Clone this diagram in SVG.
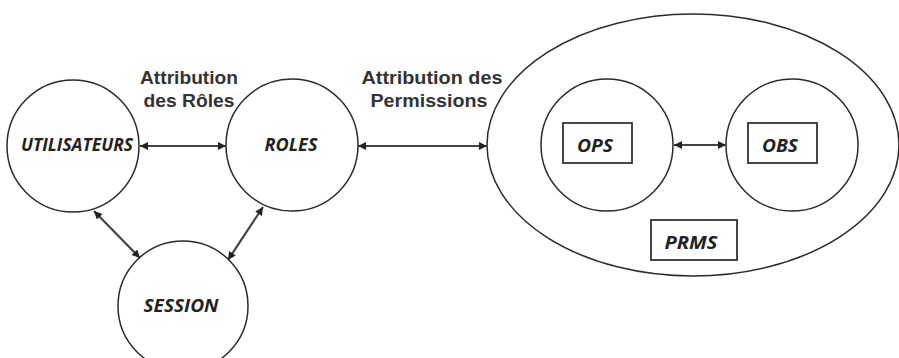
<svg xmlns="http://www.w3.org/2000/svg" width="899" height="358" viewBox="0 0 899 358">
<style>
.node{fill:#fff;stroke:#2a2a2a;stroke-width:1.5}
.box{fill:#fff;stroke:#333;stroke-width:1.8}
.nt{font-family:"Open Sans","Liberation Sans",sans-serif;font-style:italic;font-weight:700;font-size:18.5px;fill:#222;text-anchor:middle}
.lbl{font-family:"Liberation Sans",Arial,sans-serif;font-weight:700;font-size:19px;fill:#333;text-anchor:middle}
.con{stroke:#444;stroke-width:2.2;fill:none;marker-start:url(#a);marker-end:url(#a)}
</style>
<defs>
<marker id="a" viewBox="0 0 10 10" refX="10" refY="5" markerWidth="10" markerHeight="8" markerUnits="userSpaceOnUse" orient="auto-start-reverse">
<path d="M0,0 L10,5 L0,10 z" fill="#222"/>
</marker>
</defs>
<rect width="899" height="358" fill="#fff"/>
<g id="utilisateurs">
<circle class="node" cx="73" cy="146" r="66"/>
<text class="nt" x="77" y="151" textLength="112" lengthAdjust="spacingAndGlyphs">UTILISATEURS</text>
</g>
<g id="roles">
<circle class="node" cx="292" cy="145" r="66"/>
<text class="nt" x="291" y="151" textLength="53" lengthAdjust="spacingAndGlyphs">ROLES</text>
</g>
<g id="session">
<circle class="node" cx="183" cy="306" r="65"/>
<text class="nt" x="181" y="312" textLength="75" lengthAdjust="spacingAndGlyphs">SESSION</text>
</g>
<g id="prms">
<ellipse class="node" cx="693" cy="145" rx="206" ry="131"/>
<rect class="box" x="651" y="220" width="86" height="40"/>
<text class="nt" x="691" y="249" textLength="53" lengthAdjust="spacingAndGlyphs">PRMS</text>
</g>
<g id="ops">
<circle class="node" cx="607" cy="145" r="66"/>
<rect class="box" x="563" y="123" width="69" height="40"/>
<text class="nt" x="595" y="152" textLength="36" lengthAdjust="spacingAndGlyphs">OPS</text>
</g>
<g id="obs">
<circle class="node" cx="792" cy="145" r="66"/>
<rect class="box" x="748" y="123" width="69" height="40"/>
<text class="nt" x="780" y="152" textLength="36" lengthAdjust="spacingAndGlyphs">OBS</text>
</g>
<g id="connectors">
<line class="con" x1="140" y1="146" x2="226" y2="146"/>
<line class="con" x1="358" y1="146" x2="487" y2="146"/>
<line class="con" x1="674" y1="145" x2="726" y2="145"/>
<line class="con" x1="94" y1="211" x2="140" y2="258"/>
<line class="con" x1="263" y1="207" x2="228" y2="260"/>
</g>
<g id="labels">
<text class="lbl" x="189" y="84" textLength="98" lengthAdjust="spacingAndGlyphs">Attribution</text>
<text class="lbl" x="189" y="107" textLength="91" lengthAdjust="spacingAndGlyphs">des Rôles</text>
<text class="lbl" x="432" y="84" textLength="141" lengthAdjust="spacingAndGlyphs">Attribution des</text>
<text class="lbl" x="429" y="107" textLength="117" lengthAdjust="spacingAndGlyphs">Permissions</text>
</g>
</svg>
